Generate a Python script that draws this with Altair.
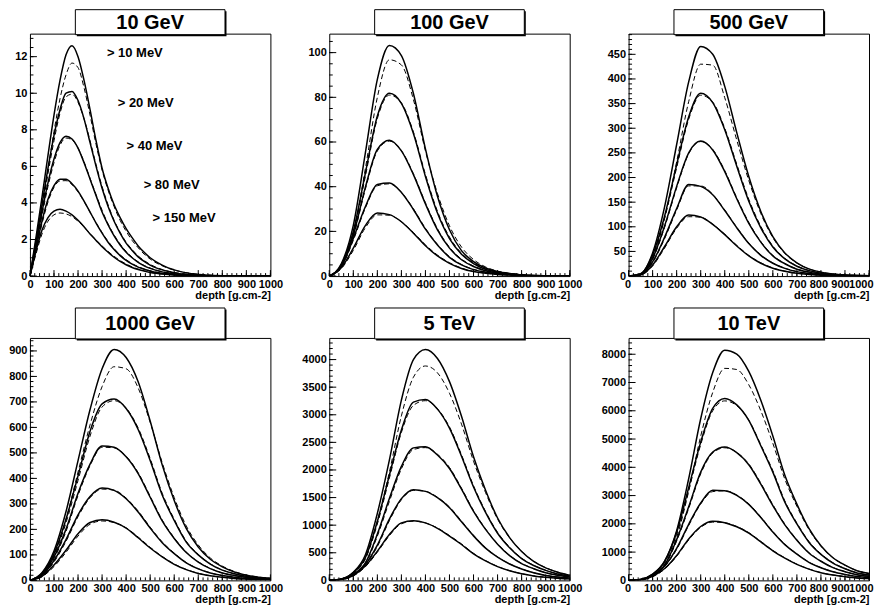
import altair as alt
import pandas as pd

FONT = "Liberation Sans"
W, H = 241, 243

THRESHOLDS = ["> 10 MeV", "> 20 MeV", "> 40 MeV", "> 80 MeV", "> 150 MeV"]
TITLES = ["10 GeV", "100 GeV", "500 GeV", "1000 GeV", "5 TeV", "10 TeV"]
YMAX = [13.26, 108.5, 492, 951, 4392, 8577]
YSTEP = [2, 20, 50, 100, 500, 1000]
YMINOR = [0.5, 5, 10, 20, 100, 200]

# threshold annotations in the 10 GeV panel (data coordinates)
LABEL_DEPTH = [320, 365, 402, 473, 510]
LABEL_VALUE = [12.2, 9.44, 7.1, 4.96, 3.16]

DEPTH_10GEV = [0, 25, 50, 75, 100, 125, 150, 175, 200, 225, 250, 275, 300, 325, 350, 375,
               400, 425, 450, 475, 500, 525, 550, 575, 600, 700, 800, 900, 1000]
DEPTH = [0, 50, 100, 150, 200, 250, 300, 350, 400, 450, 500, 550, 600, 650, 700, 750,
         800, 850, 900, 950, 1000]

# ---------------- 10 GeV ----------------
G10_S10 = [0, 2.1, 4.3, 6.6, 8.8, 10.7, 12.1, 12.6, 12.0, 10.7, 9.1, 7.4, 5.9, 4.8, 3.9, 3.2, 2.6, 2.1, 1.65, 1.3, 1.0, 0.78, 0.6, 0.45, 0.34, 0.09, 0.02, 0, 0]
G10_D10 = [0, 1.6, 3.6, 5.8, 7.9, 9.7, 11.0, 11.65, 11.4, 10.3, 8.8, 7.2, 5.8, 4.7, 3.8, 3.05, 2.45, 1.95, 1.55, 1.2, 0.93, 0.72, 0.56, 0.43, 0.33, 0.1, 0.03, 0, 0]
G10_S20 = [0, 1.9, 3.9, 5.9, 7.7, 9.1, 10.0, 10.1, 9.6, 8.6, 7.3, 6.0, 4.8, 3.8, 3.0, 2.35, 1.8, 1.4, 1.05, 0.8, 0.6, 0.45, 0.34, 0.25, 0.18, 0.04, 0.01, 0, 0]
G10_D20 = [0, 1.7, 3.6, 5.6, 7.4, 8.9, 9.8, 9.95, 9.5, 8.6, 7.4, 6.1, 4.9, 3.9, 3.05, 2.4, 1.85, 1.45, 1.1, 0.85, 0.64, 0.48, 0.36, 0.27, 0.2, 0.05, 0.01, 0, 0]
G10_S40 = [0, 1.7, 3.5, 5.1, 6.4, 7.3, 7.65, 7.5, 7.0, 6.2, 5.3, 4.4, 3.5, 2.8, 2.2, 1.7, 1.3, 1.0, 0.75, 0.56, 0.42, 0.31, 0.23, 0.17, 0.12, 0.03, 0, 0, 0]
G10_D40 = [0, 1.55, 3.3, 4.9, 6.2, 7.15, 7.55, 7.45, 7.0, 6.25, 5.35, 4.45, 3.6, 2.85, 2.25, 1.75, 1.35, 1.03, 0.78, 0.58, 0.44, 0.33, 0.24, 0.18, 0.13, 0.03, 0, 0, 0]
G10_S80 = [0, 1.5, 3.0, 4.2, 4.95, 5.3, 5.3, 5.05, 4.65, 4.1, 3.5, 2.9, 2.35, 1.85, 1.45, 1.12, 0.86, 0.65, 0.49, 0.37, 0.27, 0.2, 0.15, 0.11, 0.08, 0.02, 0, 0, 0]
G10_D80 = [0, 1.4, 2.85, 4.05, 4.85, 5.2, 5.22, 5.0, 4.6, 4.08, 3.5, 2.92, 2.38, 1.9, 1.5, 1.16, 0.9, 0.68, 0.52, 0.39, 0.29, 0.22, 0.16, 0.12, 0.09, 0.02, 0, 0, 0]
G10_S150 = [0, 1.35, 2.5, 3.2, 3.55, 3.65, 3.55, 3.35, 3.05, 2.7, 2.3, 1.95, 1.6, 1.3, 1.03, 0.8, 0.62, 0.47, 0.36, 0.27, 0.2, 0.15, 0.11, 0.08, 0.06, 0.01, 0, 0, 0]
G10_D150 = [0, 1.2, 2.3, 3.0, 3.35, 3.45, 3.4, 3.25, 3.0, 2.68, 2.32, 1.98, 1.65, 1.35, 1.08, 0.85, 0.66, 0.5, 0.38, 0.29, 0.22, 0.16, 0.12, 0.09, 0.06, 0.01, 0, 0, 0]

# ---------------- 100 GeV ----------------
G100_S10 = [0, 5.5, 22.7, 55, 88, 103.2, 98.7, 81.7, 56.9, 35.7, 20.7, 11.4, 6.5, 3.6, 2.0, 1.1, 0.5, 0.25, 0.1, 0.05, 0]
G100_D10 = [0, 4.5, 19, 48, 80, 96.8, 94.5, 79, 56, 37, 22.5, 13, 7.4, 4.1, 2.2, 1.2, 0.6, 0.3, 0.15, 0.05, 0]
G100_S20 = [0, 5, 20, 46, 71.6, 81.8, 77.3, 63.8, 44.6, 28.2, 16.8, 9.8, 5.6, 3.0, 1.8, 1.0, 0.5, 0.25, 0.1, 0.05, 0]
G100_D20 = [0, 4.6, 19, 44.5, 70.5, 81, 77.5, 64.5, 45.5, 29, 17.5, 10.2, 5.9, 3.2, 1.9, 1.05, 0.55, 0.25, 0.1, 0.05, 0]
G100_S40 = [0, 4.6, 18.3, 39.7, 56.7, 60.8, 56, 45.4, 32.3, 20.7, 12.5, 7.3, 4.3, 2.4, 1.4, 0.8, 0.4, 0.2, 0.1, 0.05, 0]
G100_D40 = [0, 4.3, 17.6, 38.8, 56, 60.4, 56.2, 45.8, 32.8, 21.2, 12.9, 7.6, 4.5, 2.5, 1.45, 0.8, 0.4, 0.2, 0.1, 0.05, 0]
G100_S80 = [0, 4.2, 16.8, 31, 41, 41.6, 37.4, 29.8, 21, 13.9, 8.4, 5.0, 2.9, 1.7, 1.0, 0.6, 0.3, 0.15, 0.08, 0.04, 0]
G100_D80 = [0, 3.9, 16, 30.4, 40.4, 41.3, 37.5, 30.1, 21.4, 14.2, 8.7, 5.2, 3.0, 1.8, 1.05, 0.6, 0.3, 0.15, 0.08, 0.04, 0]
G100_S150 = [0, 3.7, 12.5, 22.6, 28.2, 27.5, 24.3, 19.2, 13.6, 9.0, 5.7, 3.4, 2.0, 1.25, 0.75, 0.45, 0.25, 0.12, 0.06, 0.03, 0]
G100_D150 = [0, 3.3, 11.5, 21.6, 27.4, 27.2, 24.3, 19.5, 14, 9.4, 6, 3.6, 2.1, 1.3, 0.8, 0.45, 0.25, 0.12, 0.06, 0.03, 0]

# ---------------- 500 GeV ----------------
G500_S10 = [0, 4.7, 47, 141, 267, 394, 466, 450, 385, 291, 202, 131, 80, 47, 27, 14.5, 8, 4.2, 2.3, 1.4, 0.9]
G500_D10 = [0, 2.2, 35, 118, 232, 354, 430, 428, 362, 276, 194, 127, 78, 46, 26.5, 14.5, 8, 4.3, 2.3, 1.4, 0.9]
G500_S20 = [0, 4.5, 43, 122, 226, 323, 371, 352, 297, 223, 152, 98, 59, 35, 20, 11, 6, 3.3, 1.9, 1.1, 0.7]
G500_D20 = [0, 4, 40, 117, 220, 318, 367, 353, 300, 227, 156, 101, 61, 36, 20.5, 11.3, 6.2, 3.4, 1.9, 1.1, 0.7]
G500_S40 = [0, 3.9, 36, 102, 182, 250, 274, 256, 212, 157, 107, 69, 41, 25, 14, 8, 4.4, 2.5, 1.4, 0.8, 0.5]
G500_D40 = [0, 3.6, 34, 99, 179, 248, 273, 257, 214, 159, 109, 70, 42, 25.5, 14.5, 8.2, 4.5, 2.5, 1.4, 0.8, 0.5]
G500_S80 = [0, 3.2, 29, 79, 137, 186, 182, 165, 133, 98, 66, 42, 26, 15.6, 9, 5.1, 2.8, 1.5, 0.9, 0.6, 0.4]
G500_D80 = [0, 2.9, 27, 76, 134, 183, 183, 166, 134, 99, 67, 43, 26.5, 16, 9.2, 5.2, 2.9, 1.6, 0.9, 0.6, 0.4]
G500_S150 = [0, 2.5, 22.5, 60, 100, 124, 120, 105, 84, 61, 41, 26, 16, 9.8, 5.6, 3.2, 1.8, 1, 0.6, 0.4, 0.25]
G500_D150 = [0, 2.2, 20.5, 57, 97, 120.5, 119.5, 105.5, 85, 62.5, 42, 27, 16.5, 10, 5.8, 3.3, 1.9, 1, 0.6, 0.4, 0.25]

# ---------------- 1000 GeV ----------------
G1000_S10 = [0, 30, 115, 270, 470, 670, 830, 906, 874, 779, 625, 453, 313, 204, 131, 83, 53, 33, 20, 12.7, 8]
G1000_D10 = [0, 26, 100, 240, 425, 610, 760, 838, 830, 755, 620, 462, 325, 214, 139, 88, 56, 35, 21, 13, 8]
G1000_S20 = [0, 28, 105, 240, 410, 585, 692, 711, 674, 592, 470, 335, 235, 150, 100, 64, 40, 26, 16, 10, 6.4]
G1000_D20 = [0, 25, 96, 226, 392, 566, 680, 705, 676, 598, 478, 342, 240, 154, 102, 65, 41, 26, 16, 10, 6.4]
G1000_S40 = [0, 24, 92, 201, 342, 456, 527, 522, 485, 419, 326, 233, 164, 109, 72, 46, 29, 19, 12, 7.4, 4.8]
G1000_D40 = [0, 21, 85, 192, 333, 450, 522, 520, 487, 423, 330, 237, 167, 111, 73, 47, 29, 19, 12, 7.4, 4.8]
G1000_S80 = [0, 20, 78, 160, 257, 329, 362, 353, 320, 268, 205, 148, 105, 69, 45, 29, 19, 12.3, 7.6, 5, 3.3]
G1000_D80 = [0, 18, 72, 153, 250, 324, 358, 354, 323, 272, 209, 151, 107, 70, 46, 29.5, 19, 12.3, 7.6, 5, 3.3]
G1000_S150 = [0, 16, 60, 118, 183, 227, 237.5, 228, 205, 167, 127, 92, 63, 42, 27, 18, 12, 7.8, 5, 3.3, 2.1]
G1000_D150 = [0, 14, 54, 110, 174, 220, 233, 227, 206, 170, 130, 94, 64.5, 43, 28, 18.5, 12, 7.8, 5, 3.3, 2.1]

# ---------------- 5 TeV ----------------
T5_S10 = [0, 25, 147, 460, 1214, 2177, 3266, 3999, 4183, 4020, 3601, 2973, 2240, 1633, 1130, 775, 523, 343, 226, 147, 92]
T5_D10 = [0, 20, 120, 400, 1080, 1960, 2980, 3680, 3884, 3760, 3390, 2830, 2160, 1590, 1110, 770, 525, 348, 230, 150, 95]
T5_S20 = [0, 23, 140, 410, 1067, 1904, 2725, 3230, 3275, 3102, 2758, 2249, 1691, 1231, 854, 591, 394, 269, 181, 115, 76]
T5_D20 = [0, 22, 130, 385, 1020, 1850, 2680, 3170, 3255, 3110, 2780, 2275, 1715, 1250, 870, 602, 402, 274, 184, 117, 77]
T5_S40 = [0, 22, 109, 316, 838, 1481, 2064, 2400, 2420, 2270, 2027, 1651, 1250, 923, 656, 449, 304, 211, 138, 92, 61]
T5_D40 = [0, 19, 98, 295, 800, 1430, 2020, 2370, 2405, 2285, 2045, 1670, 1265, 933, 663, 454, 307, 213, 139, 93, 61]
T5_S80 = [0, 18, 100, 290, 640, 1110, 1481, 1643, 1612, 1497, 1316, 1061, 806, 584, 419, 296, 206, 137, 90, 61, 41]
T5_D80 = [0, 16, 90, 272, 612, 1080, 1460, 1630, 1615, 1507, 1330, 1075, 817, 592, 424, 299, 208, 138, 91, 61, 41]
T5_S150 = [0, 15, 88, 260, 530, 830, 1041, 1081, 1041, 943, 802, 650, 482, 352, 249, 173, 119, 81, 56, 38, 26]
T5_D150 = [0, 13, 80, 245, 510, 810, 1025, 1072, 1040, 950, 812, 660, 490, 358, 253, 176, 121, 82, 57, 38, 26]

# ---------------- 10 TeV ----------------
T10_S10 = [0, 33, 220, 678, 1757, 3595, 5719, 7353, 8145, 8007, 7394, 6373, 5106, 3717, 2696, 1838, 1226, 801, 539, 343, 245]
T10_D10 = [0, 25, 160, 560, 1520, 3150, 5100, 6650, 7500, 7460, 6920, 6000, 4850, 3580, 2620, 1800, 1210, 800, 540, 345, 245]
T10_S20 = [0, 33, 212, 676, 1705, 3282, 4891, 6081, 6435, 6210, 5663, 4762, 3829, 2767, 1995, 1351, 920, 611, 412, 264, 187]
T10_D20 = [0, 28, 190, 630, 1620, 3180, 4800, 6000, 6350, 6180, 5670, 4800, 3880, 2810, 2030, 1380, 940, 625, 420, 270, 190]
T10_S40 = [0, 30, 185, 544, 1442, 2601, 3830, 4540, 4715, 4516, 4091, 3405, 2648, 1963, 1419, 969, 676, 449, 307, 199, 142]
T10_D40 = [0, 26, 170, 515, 1390, 2540, 3770, 4500, 4690, 4530, 4120, 3440, 2680, 1990, 1440, 985, 685, 455, 310, 201, 143]
T10_S80 = [0, 26, 160, 512, 1136, 1984, 2736, 3185, 3170, 3008, 2688, 2224, 1712, 1264, 928, 640, 448, 304, 208, 134, 96]
T10_D80 = [0, 23, 148, 488, 1095, 1940, 2700, 3140, 3170, 3020, 2705, 2245, 1730, 1280, 938, 647, 452, 307, 210, 135, 96]
T10_S150 = [0, 22, 140, 419, 880, 1466, 1906, 2094, 2042, 1895, 1675, 1361, 1047, 785, 565, 398, 272, 188, 130, 84, 63]
T10_D150 = [0, 19, 128, 398, 850, 1430, 1875, 2060, 2040, 1905, 1690, 1378, 1062, 796, 573, 403, 275, 190, 131, 85, 63]

PANELS = [
    (DEPTH_10GEV, [G10_S10, G10_S20, G10_S40, G10_S80, G10_S150],
     [G10_D10, G10_D20, G10_D40, G10_D80, G10_D150]),
    (DEPTH, [G100_S10, G100_S20, G100_S40, G100_S80, G100_S150],
     [G100_D10, G100_D20, G100_D40, G100_D80, G100_D150]),
    (DEPTH, [G500_S10, G500_S20, G500_S40, G500_S80, G500_S150],
     [G500_D10, G500_D20, G500_D40, G500_D80, G500_D150]),
    (DEPTH, [G1000_S10, G1000_S20, G1000_S40, G1000_S80, G1000_S150],
     [G1000_D10, G1000_D20, G1000_D40, G1000_D80, G1000_D150]),
    (DEPTH, [T5_S10, T5_S20, T5_S40, T5_S80, T5_S150],
     [T5_D10, T5_D20, T5_D40, T5_D80, T5_D150]),
    (DEPTH, [T10_S10, T10_S20, T10_S40, T10_S80, T10_S150],
     [T10_D10, T10_D20, T10_D40, T10_D80, T10_D150]),
]

BOX_W = 150


def make_panel(i, depth, solids, dashes):
    rows = []
    for thr, s, d in zip(THRESHOLDS, solids, dashes):
        for x, v in zip(depth, s):
            rows.append({"depth": x, "value": v, "thr": thr, "kind": "sim"})
        for x, v in zip(depth, d):
            rows.append({"depth": x, "value": v, "thr": thr, "kind": "fit"})
    df = pd.DataFrame(rows)

    xs = alt.Scale(domain=[0, 1000], nice=False, zero=False)
    ys = alt.Scale(domain=[0, YMAX[i]], nice=False, zero=False)

    nmaj = int(YMAX[i] // YSTEP[i])
    ylabels = [k * YSTEP[i] for k in range(nmaj + 1)]
    nmin = int(YMAX[i] // YMINOR[i])
    yminor = [k * YMINOR[i] for k in range(nmin + 1)]

    last_col = (i % 3 == 2)
    xaxis_kw = dict(values=list(range(0, 1001, 100)), format="d", ticks=False, domain=False,
                    grid=False, labelFont=FONT, labelFontWeight="bold", labelFontSize=11,
                    labelColor="black", labelPadding=2, labelOverlap=False,
                    title="depth [g.cm-2]", titleFont=FONT, titleFontWeight="bold",
                    titleFontSize=11, titleColor="black", titleAnchor="end", titlePadding=0)
    if last_col:
        # keep the right-most label inside the page; nudge "800"/"900" left so they don't collide
        xaxis_kw.update(labelFlush=True, labelFlushOffset=4,
                        labelOffset={"condition": [
                            {"test": "datum.value == 900", "value": -5},
                            {"test": "datum.value == 800", "value": -2.5}],
                            "value": 0})
    else:
        xaxis_kw.update(labelFlush=False)
    xaxis = alt.Axis(**xaxis_kw)
    yaxis = alt.Axis(values=ylabels, format="d", ticks=False, domain=False, grid=False,
                     labelFont=FONT, labelFontWeight="bold", labelFontSize=11,
                     labelColor="black", labelPadding=3, labelFlush=False,
                     labelOverlap=False, title=None)

    base = alt.Chart(df)
    solid = base.transform_filter(alt.datum.kind == "sim").mark_line(
        color="black", strokeWidth=1.5, interpolate="monotone", clip=True
    ).encode(
        x=alt.X("depth:Q", scale=xs, axis=xaxis),
        y=alt.Y("value:Q", scale=ys, axis=yaxis),
        detail="thr:N",
    )
    dashed = base.transform_filter(alt.datum.kind == "fit").mark_line(
        color="black", strokeWidth=1.0, strokeDash=[5, 3], interpolate="monotone", clip=True
    ).encode(
        x=alt.X("depth:Q", scale=xs, axis=None),
        y=alt.Y("value:Q", scale=ys, axis=None),
        detail="thr:N",
    )

    xmaj = alt.Chart(pd.DataFrame({"t": list(range(0, 1001, 100))})).mark_rule(
        color="black", strokeWidth=1).encode(
        x=alt.X("t:Q", scale=xs, axis=None), y=alt.value(H), y2=alt.value(H - 6))
    xmin = alt.Chart(pd.DataFrame({"t": list(range(0, 1001, 20))})).mark_rule(
        color="black", strokeWidth=1).encode(
        x=alt.X("t:Q", scale=xs, axis=None), y=alt.value(H), y2=alt.value(H - 3))
    ymaj = alt.Chart(pd.DataFrame({"t": ylabels})).mark_rule(
        color="black", strokeWidth=1).encode(
        y=alt.Y("t:Q", scale=ys, axis=None), x=alt.value(0), x2=alt.value(7))
    ymin = alt.Chart(pd.DataFrame({"t": yminor})).mark_rule(
        color="black", strokeWidth=1).encode(
        y=alt.Y("t:Q", scale=ys, axis=None), x=alt.value(0), x2=alt.value(3.5))

    bx0 = (W - BOX_W) / 2
    bx1 = bx0 + BOX_W
    btop = -24 if i < 3 else -30
    tdf = pd.DataFrame({"label": [TITLES[i]]})
    shadow = alt.Chart(tdf).mark_rect(color="black").encode(
        x=alt.value(bx0 + 1.5), x2=alt.value(bx1 + 1.5),
        y=alt.value(btop + 1.5), y2=alt.value(1 + 1.5))
    box = alt.Chart(tdf).mark_rect(fill="white", stroke="black", strokeWidth=1).encode(
        x=alt.value(bx0), x2=alt.value(bx1), y=alt.value(btop), y2=alt.value(1))
    title = alt.Chart(tdf).mark_text(
        font=FONT, fontWeight="bold", fontSize=20, color="black",
        align="center", baseline="middle").encode(
        x=alt.value(W / 2), y=alt.value((btop + 1) / 2 + 0.5), text="label:N")

    layers = [solid, dashed, xmin, xmaj, ymin, ymaj, shadow, box, title]
    if i == 0:
        ldf = pd.DataFrame({"text": THRESHOLDS, "d": LABEL_DEPTH, "v": LABEL_VALUE})
        ann = alt.Chart(ldf).mark_text(
            font=FONT, fontWeight="bold", fontSize=13, color="black",
            align="left", baseline="middle").encode(
            x=alt.X("d:Q", scale=xs, axis=None),
            y=alt.Y("v:Q", scale=ys, axis=None),
            text="text:N")
        layers.append(ann)
    return alt.layer(*layers).resolve_axis(x="independent", y="independent").properties(
        width=W, height=H)


panels = [make_panel(i, *p) for i, p in enumerate(PANELS)]

chart = alt.concat(
    *panels, columns=3, spacing={"row": 62, "column": 59}, bounds="flush"
).properties(
    padding=0, background="white"
).configure_view(
    stroke="black", strokeWidth=1
)

chart.save("out.html", embed_options={"renderer": "svg", "actions": False})
